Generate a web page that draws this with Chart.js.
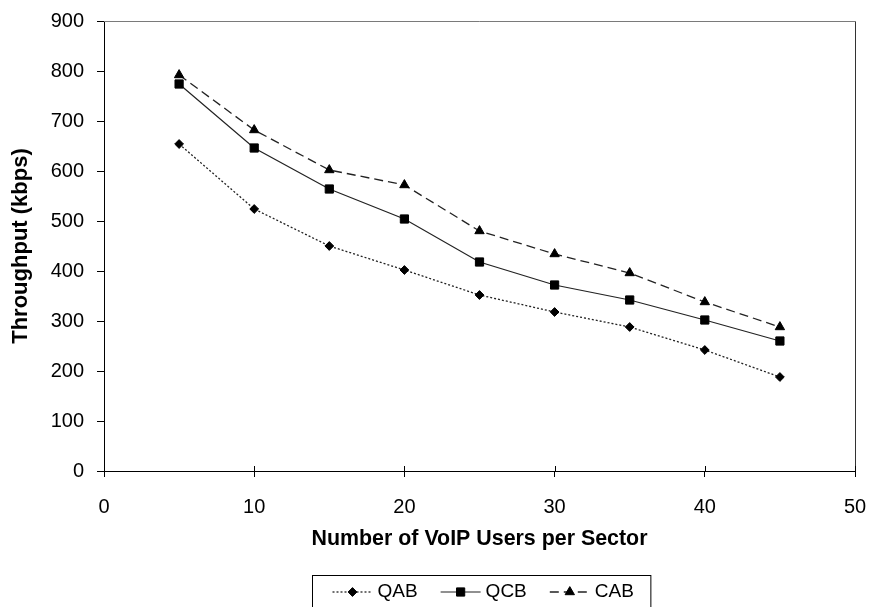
<!DOCTYPE html>
<html>
<head>
<meta charset="utf-8">
<script src="https://cdn.jsdelivr.net/npm/chart.js@4/dist/chart.umd.min.js"></script>
<style>
  html, body { margin: 0; padding: 0; background: #fff; }
  #wrap { width: 871px; height: 607px; }
</style>
</head>
<body>
<div id="wrap"><canvas id="c" width="871" height="607"></canvas></div>
<script>
// VoIP users per sector (x) and throughput in kbps (y) for each scheme
const users = [5, 10, 15, 20, 25, 30, 35, 40, 45];
const qab = [654, 524, 450, 402, 352, 318, 288, 242, 188];
const qcb = [774, 646, 564, 504, 418, 372, 342, 302, 260];
const cab = [792, 682, 602, 572, 480, 434, 396, 338, 288];
const seriesNames = ['QAB', 'QCB', 'CAB'];
const xTicks = [0, 10, 20, 30, 40, 50];
const yTicks = [0, 100, 200, 300, 400, 500, 600, 700, 800, 900];

const FONT = '"Liberation Sans", Arial, Helvetica, sans-serif';
const INK = '#000';
const LINE = '#222';

const pts = vals => users.map((u, i) => ({ x: u, y: vals[i] }));

// Paint point glyphs solid black wherever they are drawn by hand
function glyph(ctx, style, radius, x, y) {
  ctx.save();
  ctx.fillStyle = INK;
  ctx.strokeStyle = INK;
  ctx.lineWidth = 1;
  ctx.setLineDash([]);
  Chart.helpers.drawPoint(ctx, { pointStyle: style, radius, borderWidth: 1, rotation: 0 }, x, y);
  ctx.restore();
}

// Plot-area frame: grey top edge, dark right edge
const plotFrame = {
  id: 'plotFrame',
  beforeDatasetsDraw(chart) {
    const { ctx, chartArea: a } = chart;
    const t = Math.round(a.top) + 0.5, r = Math.round(a.right) + 0.5, b = Math.round(a.bottom);
    ctx.save();
    ctx.lineWidth = 1;
    ctx.strokeStyle = '#7a7a7a';
    ctx.beginPath();
    ctx.moveTo(a.left, t);
    ctx.lineTo(r, t);
    ctx.stroke();
    ctx.strokeStyle = '#333';
    ctx.beginPath();
    ctx.moveTo(r, t);
    ctx.lineTo(r, b);
    ctx.stroke();
    ctx.restore();
  }
};

// Short tick stubs above the x axis, so the x ticks cross the axis line
const crossTicks = {
  id: 'crossTicks',
  afterDatasetsDraw(chart) {
    const ctx = chart.ctx;
    const xs = chart.scales.x;
    const base = chart.chartArea.bottom;
    ctx.save();
    ctx.strokeStyle = INK;
    ctx.lineWidth = 1;
    xTicks.forEach(v => {
      const px = Math.round(xs.getPixelForValue(v)) + 0.5;
      ctx.beginPath();
      ctx.moveTo(px, base);
      ctx.lineTo(px, base - 5);
      ctx.stroke();
    });
    ctx.restore();
  }
};

// Legend drawn inside a framed box under the x-axis title
const boxedLegend = {
  id: 'boxedLegend',
  afterDraw(chart) {
    const ctx = chart.ctx;
    const area = chart.chartArea;
    const sets = chart.data.datasets;
    ctx.save();
    ctx.font = '19px ' + FONT;
    const sampleW = 40, textGap = 5, itemGap = 23, padL = 20, padR = 17;
    const widths = sets.map(d => sampleW + textGap + ctx.measureText(d.label).width);
    const inner = widths.reduce((a, b) => a + b, 0) + itemGap * (sets.length - 1);
    const boxW = inner + padL + padR;
    const cx = (area.left + area.right) / 2 + 2;
    const boxL = Math.round(cx - boxW / 2) + 0.5;
    const boxT = 575.5;
    const midY = 592;
    ctx.strokeStyle = INK;
    ctx.lineWidth = 1;
    ctx.strokeRect(boxL, boxT, boxW, 50);

    let x = boxL + padL;
    sets.forEach((d, i) => {
      ctx.save();
      ctx.strokeStyle = d.borderColor;
      ctx.lineWidth = d.borderWidth;
      ctx.setLineDash(d.borderDash || []);
      ctx.beginPath();
      ctx.moveTo(x, midY);
      ctx.lineTo(x + sampleW, midY);
      ctx.stroke();
      ctx.restore();
      glyph(ctx, d.pointStyle, d.pointRadius, x + sampleW / 2, midY);
      ctx.fillStyle = INK;
      ctx.textBaseline = 'middle';
      ctx.textAlign = 'left';
      ctx.fillText(d.label, x + sampleW + textGap, midY);
      x += widths[i] + itemGap;
    });
    ctx.restore();
  }
};

new Chart(document.getElementById('c'), {
  type: 'line',
  data: {
    datasets: [
      {
        label: seriesNames[0], data: pts(qab),
        borderColor: LINE, borderWidth: 1.3, borderDash: [2, 2],
        pointStyle: 'rectRot', pointRadius: 4.4,
        pointBackgroundColor: INK, pointBorderColor: INK, pointBorderWidth: 1
      },
      {
        label: seriesNames[1], data: pts(qcb),
        borderColor: LINE, borderWidth: 1.2, borderDash: [],
        pointStyle: 'rect', pointRadius: 5.8,
        pointBackgroundColor: INK, pointBorderColor: INK, pointBorderWidth: 1
      },
      {
        label: seriesNames[2], data: pts(cab),
        borderColor: LINE, borderWidth: 1.3, borderDash: [9, 5],
        pointStyle: 'triangle', pointRadius: 5.4,
        pointBackgroundColor: INK, pointBorderColor: INK, pointBorderWidth: 1
      }
    ]
  },
  options: {
    responsive: false,
    animation: false,
    events: [],
    layout: { padding: { left: 0, right: 16, top: 21, bottom: 52 } },
    plugins: {
      legend: { display: false },
      tooltip: { enabled: false }
    },
    elements: { line: { tension: 0 } },
    scales: {
      x: {
        type: 'linear', min: 0, max: 50,
        afterBuildTicks: s => { s.ticks = xTicks.map(v => ({ value: v })); },
        afterFit: s => { s.height = 84; s.paddingLeft = 0; s.paddingRight = 0; },
        border: { display: true, color: INK, width: 1 },
        grid: { display: true, drawOnChartArea: false, drawTicks: true, tickLength: 6, color: INK },
        ticks: { color: INK, font: { family: FONT, size: 20 }, padding: 18, maxRotation: 0 },
        title: { display: true, text: 'Number of VoIP Users per Sector', color: INK,
                 font: { family: FONT, size: 21.4, weight: 'bold' }, padding: { top: 4, bottom: 3 } }
      },
      y: {
        type: 'linear', min: 0, max: 900,
        afterBuildTicks: s => { s.ticks = yTicks.map(v => ({ value: v })); },
        afterFit: s => { s.width = 104; s.paddingTop = 0; s.paddingBottom = 0; },
        border: { display: true, color: INK, width: 1 },
        grid: { display: true, drawOnChartArea: false, drawTicks: true, tickLength: 7, color: INK },
        ticks: { color: INK, font: { family: FONT, size: 20 }, padding: 13 },
        title: { display: true, text: 'Throughput (kbps)', color: INK,
                 font: { family: FONT, size: 22, weight: 'bold' }, padding: { top: 8, bottom: 4 } }
      }
    }
  },
  plugins: [plotFrame, crossTicks, boxedLegend]
});
</script>
</body>
</html>
